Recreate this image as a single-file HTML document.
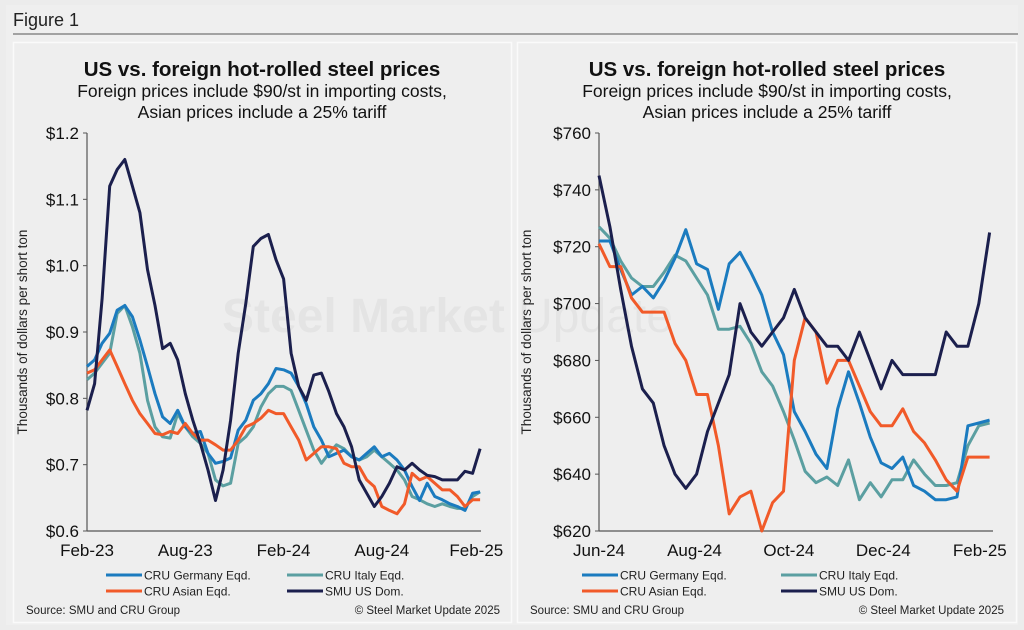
<!DOCTYPE html>
<html><head><meta charset="utf-8">
<style>
html,body{margin:0;padding:0;background:#ececec;}
svg{display:block;font-family:"Liberation Sans",Arial,sans-serif;}
</style></head>
<body>
<svg id="fig" width="1024" height="630" viewBox="0 0 1024 630" xmlns="http://www.w3.org/2000/svg">
<rect x="0" y="0" width="1024" height="630" fill="#ececec"/>
<rect x="6" y="5" width="1012" height="620" fill="#efefef"/>
<text x="13" y="26" font-size="18" fill="#222">Figure 1</text>
<line x1="13" y1="34" x2="1018" y2="34" stroke="#555" stroke-width="1"/>
<rect x="13.5" y="42.5" width="498" height="580" fill="#eeeeee" stroke="#fafafa" stroke-width="1.5"/>
<rect x="517.5" y="42.5" width="499" height="580" fill="#eeeeee" stroke="#fafafa" stroke-width="1.5"/>
<text x="222" y="332" font-size="48" font-weight="bold" fill="#000" fill-opacity="0.04">Steel Market <tspan font-weight="normal">Update</tspan></text>
<g id="L"></g>
<g id="R"></g>
</svg>
<script>
// ---- Left chart data (biweekly, Feb-23 .. Feb-25), $ thousands
const leftTicks=[0.6,0.7,0.8,0.9,1.0,1.1,1.2];
const leftTickLabels=["$0.6","$0.7","$0.8","$0.9","$1.0","$1.1","$1.2"];
const leftXLabels=["Feb-23","Aug-23","Feb-24","Aug-24","Feb-25"];
const leftXLabelIdx=[0,13,26,39,51.5];
const leftGermany=[0.848,0.858,0.883,0.898,0.933,0.94,0.923,0.888,0.848,0.807,0.772,0.762,0.782,0.757,0.747,0.75,0.717,0.702,0.705,0.71,0.752,0.767,0.797,0.807,0.822,0.845,0.843,0.838,0.818,0.792,0.757,0.737,0.712,0.717,0.722,0.712,0.707,0.717,0.727,0.712,0.717,0.707,0.692,0.667,0.646,0.672,0.652,0.647,0.641,0.637,0.631,0.657,0.659];
const leftItaly=[0.828,0.838,0.853,0.868,0.928,0.94,0.908,0.868,0.797,0.757,0.742,0.74,0.777,0.757,0.742,0.732,0.717,0.677,0.668,0.672,0.732,0.742,0.757,0.787,0.807,0.818,0.818,0.812,0.782,0.752,0.722,0.702,0.717,0.73,0.724,0.712,0.707,0.712,0.722,0.712,0.702,0.692,0.677,0.652,0.647,0.641,0.637,0.641,0.637,0.634,0.634,0.652,0.659];
const leftAsian=[0.838,0.843,0.858,0.873,0.848,0.822,0.797,0.777,0.762,0.747,0.745,0.75,0.747,0.762,0.747,0.737,0.737,0.73,0.722,0.722,0.737,0.757,0.762,0.77,0.782,0.777,0.777,0.757,0.737,0.707,0.717,0.727,0.727,0.724,0.702,0.697,0.697,0.677,0.667,0.637,0.631,0.626,0.641,0.687,0.677,0.682,0.672,0.662,0.662,0.652,0.637,0.647,0.647];
const leftUS=[0.782,0.822,0.95,1.12,1.145,1.16,1.12,1.08,0.994,0.94,0.875,0.883,0.858,0.807,0.767,0.732,0.692,0.646,0.692,0.767,0.868,0.943,1.029,1.041,1.047,1.009,0.98,0.868,0.818,0.797,0.835,0.838,0.81,0.777,0.757,0.727,0.677,0.657,0.637,0.652,0.672,0.697,0.692,0.702,0.692,0.684,0.682,0.677,0.677,0.677,0.69,0.687,0.724];
// ---- Right chart data (weekly, Jun-24 .. Feb-25), $ per short ton
const rightTicks=[620,640,660,680,700,720,740,760];
const rightTickLabels=["$620","$640","$660","$680","$700","$720","$740","$760"];
const rightXLabels=["Jun-24","Aug-24","Oct-24","Dec-24","Feb-25"];
const rightXLabelIdx=[0,8.8,17.5,26.2,35.1];
const rightGermany=[722,722,712,703,706,702,708,716,726,714,712,698,714,718,711,703,690,682,662,655,647,642,663,676,665,653,644,642,646,636,634,631,631,632,657,658,659];
const rightItaly=[727,723,715,709,706,706,711,717,715,709,703,691,691,692,686,676,671,662,652,641,637,639,636,645,631,637,632,638,638,645,640,636,636,637,650,657,658];
const rightAsian=[721,713,713,702,697,697,697,686,680,668,668,650,626,632,634,620,630,634,680,695,690,672,680,680,671,662,657,657,663,655,651,645,638,634,646,646,646];
const rightUS=[745,727,705,685,670,665,650,640,635,640,655,665,675,700,690,685,690,695,705,695,690,685,685,680,690,680,670,680,675,675,675,675,690,685,685,700,725];

const NS="http://www.w3.org/2000/svg";
const COLORS={g:"#1b7bbf",i:"#5b9fa1",a:"#f15a29",u:"#1b1f4d"};
function mk(tag,attrs,parent){const e=document.createElementNS(NS,tag);for(const k in attrs)e.setAttribute(k,attrs[k]);parent.appendChild(e);return e;}

function drawChart(g,cfg){
  const yS=v=>cfg.y0+(v-cfg.vmin)/(cfg.vmax-cfg.vmin)*(cfg.y1-cfg.y0);
  const xS=i=>cfg.x0+i*cfg.dx;
  const cx=cfg.cx;
  let t=mk("text",{x:cx,y:76,"font-size":"20.5","font-weight":"bold","text-anchor":"middle",fill:"#111"},g);
  t.textContent="US vs. foreign hot-rolled steel prices";
  
  
  t=mk("text",{x:cx,y:97,"font-size":"17.5","text-anchor":"middle",fill:"#111"},g);
  t.textContent="Foreign prices include $90/st in importing costs,";
  
  
  t=mk("text",{x:cx,y:118,"font-size":"17.5","text-anchor":"middle",fill:"#111"},g);
  t.textContent="Asian prices include a 25% tariff";
  
  
  let ax=mk("line",{x1:cfg.x0,y1:cfg.y1,x2:cfg.x0,y2:cfg.y0,stroke:"#555","stroke-width":"1.2"},g);
  
  
  ax=mk("line",{x1:cfg.x0,y1:cfg.y0,x2:cfg.xend,y2:cfg.y0,stroke:"#555","stroke-width":"1.2"},g);
  
  
  cfg.ticks.forEach((v,k)=>{
    const y=yS(v);
    mk("line",{x1:cfg.x0-4,y1:y,x2:cfg.x0,y2:y,stroke:"#555","stroke-width":"1"},g);
    const tl=mk("text",{x:cfg.x0-8,y:y+6,"font-size":"17","text-anchor":"end",fill:"#111"},g);
    tl.textContent=cfg.tickLabels[k];
    
    
  });
  cfg.xLabels.forEach((s,k)=>{
    const tl=mk("text",{x:xS(cfg.xIdx[k]),y:556,"font-size":"17","text-anchor":"middle",fill:"#111"},g);
    tl.textContent=s;
    
    
  });
  const yt=mk("text",{x:0,y:0,"font-size":"13.5","text-anchor":"middle",fill:"#222",transform:`translate(${cfg.ytx},${(cfg.y0+cfg.y1)/2}) rotate(-90)`},g);
  yt.textContent="Thousands of dollars per short ton";
  
  
  const series=[[cfg.it,COLORS.i,'line-cru-italy'],[cfg.ge,COLORS.g,'line-cru-germany'],[cfg.as,COLORS.a,'line-cru-asian'],[cfg.us,COLORS.u,'line-smu-us']];
  series.forEach(([arr,col,name])=>{
    const d=arr.map((v,i)=>(i?"L":"M")+xS(i).toFixed(1)+","+yS(v).toFixed(1)).join(" ");
    const p=mk("path",{d:d,fill:"none",stroke:col,"stroke-width":"3","stroke-linejoin":"round"},g);
    
    
  });
  const leg=[["CRU Germany Eqd.",COLORS.g,cfg.lx1,575],["CRU Italy Eqd.",COLORS.i,cfg.lx2,575],["CRU Asian Eqd.",COLORS.a,cfg.lx1,591],["SMU US Dom.",COLORS.u,cfg.lx2,591]];
  leg.forEach(([s,col,x,y])=>{
    const le=mk("g",{},g);
    
    
    mk("line",{x1:x,y1:y,x2:x+36,y2:y,stroke:col,"stroke-width":"3"},le);
    const lt=mk("text",{x:x+38,y:y+4.5,"font-size":"12",fill:"#222"},le);
    lt.textContent=s;
  });
  let s=mk("text",{x:cfg.px+13,y:614,"font-size":"11.5",fill:"#222"},g);
  s.textContent="Source: SMU and CRU Group";
  
  
  s=mk("text",{x:cfg.px+487,y:614,"font-size":"11.5","text-anchor":"end",fill:"#222"},g);
  s.textContent="© Steel Market Update 2025";
  
  
}
drawChart(document.getElementById("L"),{x0:87,dx:7.56,y0:531,y1:133,vmin:0.6,vmax:1.2,xend:481,cx:262,ytx:27,
  ticks:leftTicks,tickLabels:leftTickLabels,xLabels:leftXLabels,xIdx:leftXLabelIdx,
  ge:leftGermany,it:leftItaly,as:leftAsian,us:leftUS,lx1:106,lx2:287,px:13});
drawChart(document.getElementById("R"),{x0:599,dx:10.85,y0:531,y1:133,vmin:620,vmax:760,xend:993,cx:767,ytx:531,
  ticks:rightTicks,tickLabels:rightTickLabels,xLabels:rightXLabels,xIdx:rightXLabelIdx,
  ge:rightGermany,it:rightItaly,as:rightAsian,us:rightUS,lx1:582,lx2:781,px:517});
</script>
</body></html>
